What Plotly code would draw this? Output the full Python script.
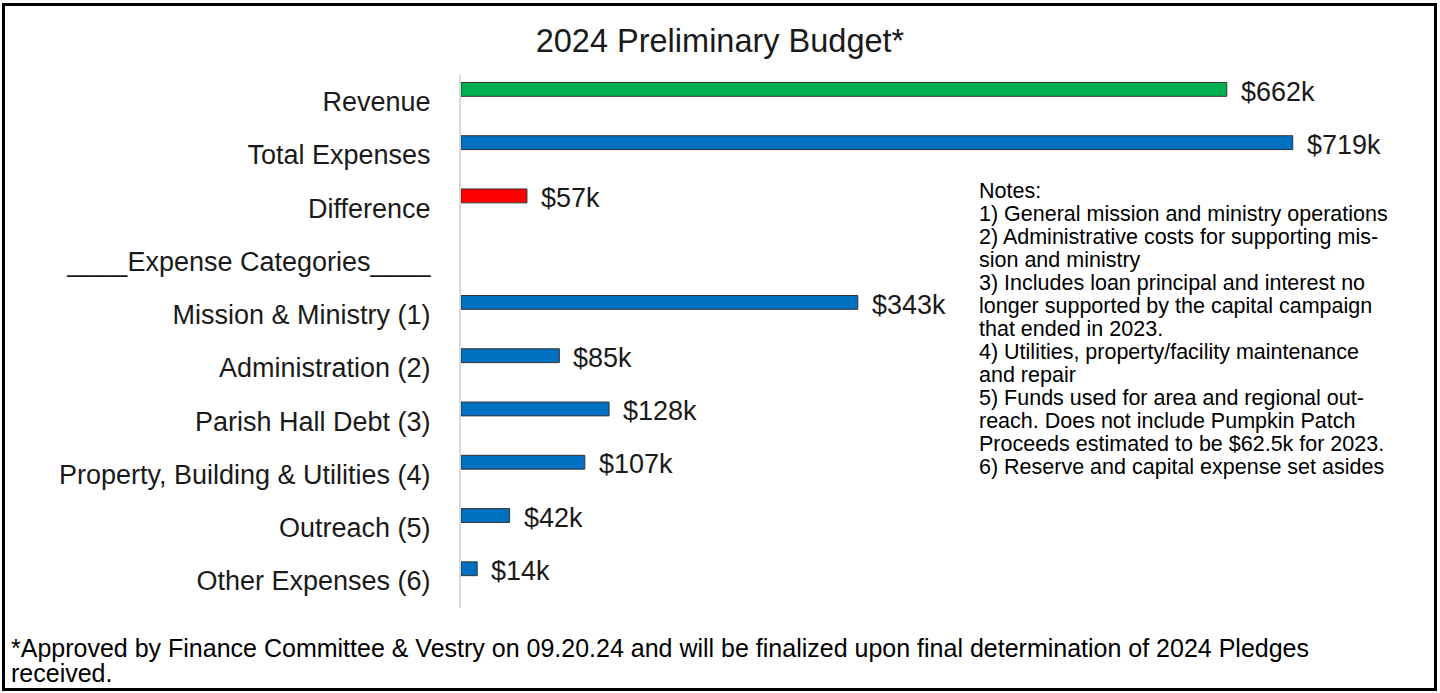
import plotly.graph_objects as go

# data (values in $k)
categories = [
    "Revenue",
    "Total Expenses",
    "Difference",
    "____Expense Categories____",
    "Mission & Ministry (1)",
    "Administration (2)",
    "Parish Hall Debt (3)",
    "Property, Building & Utilities (4)",
    "Outreach (5)",
    "Other Expenses (6)",
]
values = [662, 719, 57, None, 343, 85, 128, 107, 42, 14]
value_labels = ["$662k", "$719k", "$57k", "", "$343k", "$85k", "$128k", "$107k", "$42k", "$14k"]
bar_colors = ["#00b050", "#0070c0", "#ff0000", "#0070c0", "#0070c0", "#0070c0",
              "#0070c0", "#0070c0", "#0070c0", "#0070c0"]

notes = [
    "Notes:",
    "1) General mission and ministry operations",
    "2) Administrative costs for supporting mis-",
    "sion and ministry",
    "3) Includes loan principal and interest no",
    "longer supported by the capital campaign",
    "that ended in 2023.",
    "4) Utilities, property/facility maintenance",
    "and repair",
    "5) Funds used for area and regional out-",
    "reach. Does not include Pumpkin Patch",
    "Proceeds estimated to be $62.5k for 2023.",
    "6) Reserve and capital expense set asides",
]
footnote = [
    "*Approved by Finance Committee & Vestry on 09.20.24 and will be finalized upon final determination of 2024 Pledges",
    "received.",
]

W, H = 1440, 693
L, R, T, B = 461, 20, 75, 85
FONT = "Liberation Sans, Arial, sans-serif"


def px_x(px):
    return (px - L) / (W - L - R)


def px_y(py):
    return (H - B - py) / (H - T - B)


fig = go.Figure()

fig.add_trace(go.Bar(
    y=categories,
    x=values,
    orientation="h",
    width=0.26,
    offset=-0.36,
    marker=dict(color=bar_colors, line=dict(color="#333333", width=1)),
    hoverinfo="x+y",
))

# value labels just right of each bar, nudged up to sit on the bar
for cat, val, lab in zip(categories, values, value_labels):
    if val is None:
        continue
    fig.add_annotation(
        x=val, y=cat, text=lab, showarrow=False,
        xanchor="left", yanchor="middle", xshift=12, yshift=10,
        font=dict(family=FONT, size=27, color="#1a1a1a"),
    )

for i, line in enumerate(notes):
    fig.add_annotation(
        xref="paper", yref="paper", x=px_x(977), y=px_y(191 + 23 * i),
        text=line, showarrow=False, xanchor="left", yanchor="middle",
        font=dict(family=FONT, size=21.5, color="#000000"),
    )

for i, line in enumerate(footnote):
    fig.add_annotation(
        xref="paper", yref="paper", x=px_x(9), y=px_y(648 + 25 * i),
        text=line, showarrow=False, xanchor="left", yanchor="middle",
        font=dict(family=FONT, size=25, color="#000000"),
    )

# outer frame
fig.add_shape(
    type="rect", xref="paper", yref="paper",
    x0=px_x(3.5), x1=px_x(1435.5), y0=px_y(689.5), y1=px_y(4.5),
    line=dict(color="#000000", width=3),
)

fig.update_layout(
    width=W, height=H,
    margin=dict(l=L, r=R, t=T, b=B),
    paper_bgcolor="white", plot_bgcolor="white",
    showlegend=False,
    title=dict(
        text="2024 Preliminary Budget*", xref="paper", x=px_x(720), xanchor="center",
        y=1 - 41 / H, yanchor="middle",
        font=dict(family=FONT, size=32.5, color="#1a1a1a"),
    ),
    font=dict(family=FONT),
)

fig.update_xaxes(range=[0, 829], visible=False, fixedrange=True)
fig.update_yaxes(
    autorange="reversed",
    showline=True, linecolor="#d9d9d9", linewidth=2,
    showgrid=False, ticks="", ticklabelstandoff=23,
    tickfont=dict(family=FONT, size=27, color="#1a1a1a"),
)

fig.write_html(
    "out.html",
    config={"displayModeBar": False},
    post_script="document.body.style.margin='0';",
)
